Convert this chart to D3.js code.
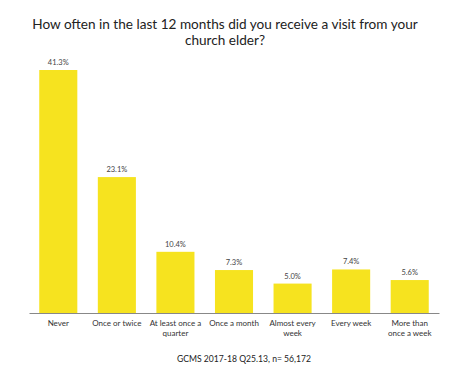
<!DOCTYPE html>
<html>
<head>
<meta charset="utf-8">
<script src="https://cdn.jsdelivr.net/npm/d3@7"></script>
<style>
    body { margin: 0; background: #fff; }
    svg text { font-family: Lato, "Open Sans", sans-serif; }
</style>
</head>
<body>
<svg id="chart" width="468" height="374"></svg>
<script>
var titleLines = ['How often in the last 12 months did you receive a visit from your', 'church elder?'];
var footer = 'GCMS 2017-18 Q25.13, n= 56,172';
var categories = ['Never', 'Once or twice', 'At least once a quarter', 'Once a month', 'Almost every week', 'Every week', 'More than once a week'];
var labelLines = [['Never'], ['Once or twice'], ['At least once a', 'quarter'], ['Once a month'], ['Almost every', 'week'], ['Every week'], ['More than', 'once a week']];
var values = [41.3, 23.1, 10.4, 7.3, 5.0, 7.4, 5.6];

var svg = d3.select('#chart');
var left = 29, right = 439, base = 313;

var x = d3.scaleBand()
    .domain(categories)
    .range([left, right])
    .paddingInner(0.35)
    .paddingOuter(0.175);

var y = d3.scaleLinear()
    .domain([0, 41.3])
    .range([base, 70]);

// title
svg.append('text')
    .attr('x', 225)
    .attr('y', 29)
    .attr('text-anchor', 'middle')
    .attr('font-size', 13.6)
    .attr('fill', '#222')
    .selectAll('tspan')
    .data(titleLines)
    .enter().append('tspan')
        .attr('x', 225)
        .attr('dy', function (d, i) { return i ? 16 : 0; })
        .text(function (d) { return d; });

svg.selectAll('.bar')
    .data(values)
    .enter().append('rect')
        .attr('class', 'bar')
        .attr('x', function (d, i) { return x(categories[i]); })
        .attr('width', x.bandwidth())
        .attr('y', function (d) { return y(d); })
        .attr('height', function (d) { return base - y(d); })
        .attr('fill', '#f6e31f');

svg.selectAll('.val')
    .data(values)
    .enter().append('text')
        .attr('class', 'val')
        .attr('x', function (d, i) { return x(categories[i]) + x.bandwidth() / 2; })
        .attr('y', function (d) { return y(d) - 5; })
        .attr('text-anchor', 'middle')
        .attr('font-size', 7.5)
        .attr('fill', '#444')
        .text(function (d) { return d.toFixed(1) + '%'; });

// axis
var axis = svg.append('g')
    .attr('transform', 'translate(0,' + base + ')')
    .call(d3.axisBottom(x).tickSize(0).tickFormat(''));
axis.select('.domain').attr('stroke', '#888').attr('stroke-width', 1);

var lab = svg.selectAll('.cat')
    .data(labelLines)
    .enter().append('text')
        .attr('class', 'cat')
        .attr('text-anchor', 'middle')
        .attr('font-size', 8)
        .attr('fill', '#333')
        .attr('y', base + 13);

lab.selectAll('tspan')
    .data(function (d, i) { return d.map(function (t) { return { t: t, c: categories[i] }; }); })
    .enter().append('tspan')
        .attr('x', function (d) { return x(d.c) + x.bandwidth() / 2; })
        .attr('dy', function (d, i) { return i ? 10 : 0; })
        .text(function (d) { return d.t; });

svg.append('text')
    .attr('x', 244)
    .attr('y', 362)
    .attr('text-anchor', 'middle')
    .attr('font-size', 8.6)
    .attr('fill', '#222')
    .text(footer);
</script>
</body>
</html>
